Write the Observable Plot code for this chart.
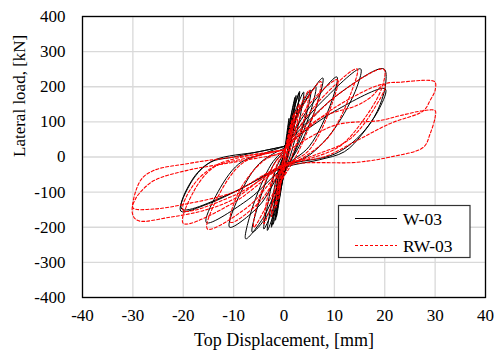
<!DOCTYPE html>
<html>
<head>
<meta charset="utf-8">
<script src="https://cdn.jsdelivr.net/npm/d3@7"></script>
<script src="https://cdn.jsdelivr.net/npm/@observablehq/plot@0.6"></script>
<style>
  html, body { margin: 0; padding: 0; background: white; }
  #chart { width: 496px; height: 360px; }
</style>
</head>
<body>
<div id="chart"></div>
<script>
// ---- Data: [displacement mm, load kN] ----
const xTicks = [-40, -30, -20, -10, 0, 10, 20, 30, 40];
const yTicks = [-400, -300, -200, -100, 0, 100, 200, 300, 400];
const seriesNames = ["W-03", "RW-03"];

// W-03 (black, solid) cycles
const w03_c1 = [[0,0],[0.5,60],[1.0,110],[0.8,80],[0.3,20],[-0.2,-30],[-0.8,-100],[-0.6,-60],[0,0]];
const w03_c2 = [[0,0],[1.0,90],[2.2,170],[1.9,130],[0.8,30],[0,-40],[-1.5,-170],[-1.2,-120],[-0.3,-20],[0,0]];
const w03_c2b = [[0,0],[1.1,95],[2.4,175],[2.0,125],[0.9,25],[-0.1,-45],[-1.7,-180],[-1.3,-115],[-0.4,-15],[0,0]];
const w03_c3 = [[0,0],[1.5,110],[3.1,187],[2.7,140],[1.2,30],[0,-50],[-1.5,-140],[-2.5,-200],[-2.0,-140],[-0.8,-30],[0,0]];
const w03_c3b = [[0,5],[1.6,115],[3.0,182],[2.6,130],[1.1,25],[-0.1,-55],[-1.4,-150],[-2.2,-192],[-1.8,-130],[-0.7,-25],[0,5]];
const w03_c4 = [[0,5],[2,120],[3.9,185],[3.4,130],[1.6,20],[0,-50],[-2,-160],[-3.3,-209],[-2.7,-150],[-1,-30],[0,5]];
const w03_c5 = [[0,10],[2.5,120],[5.3,190],[4.6,130],[2.2,20],[0,-50],[-2.5,-160],[-4,-205],[-3.3,-140],[-1.5,-30],[0,10]];
const w03_c6 = [[0,15],[3,130],[6.3,200],[5.5,140],[2.5,25],[0,-50],[-3.5,-170],[-6.3,-214],[-5.2,-140],[-2,-20],[0,15]];
const w03_c7 = [[0,20],[3.5,140],[7.7,225],[6.8,160],[3,30],[0,-40],[-4,-170],[-7.6,-233],[-6.4,-150],[-2.5,-20],[0,20]];
const w03_c8 = [[0,25],[5,140],[10.5,228],[9.5,160],[5,30],[0,-30],[-5,-140],[-10.8,-200],[-9.5,-130],[-5,-20],[0,25]];
const w03_c9 = [[0,30],[7,150],[15.2,251],[14.5,200],[10,80],[5,5],[0,-30],[-7,-120],[-15.4,-187],[-13.5,-110],[-9,-20],[-4,10],[0,30]];
const w03_c10 = [[0,30],[10,170],[19.8,251],[20.2,210],[18.5,130],[15.5,65],[12,15],[7,-8],[0,-30],[-10.6,-105],[-15,-133],[-20.5,-154],[-18.2,-67],[-14.6,-15],[-10,0],[0,30]];
const w03_c11 = [[0,30],[10,130],[20.1,194],[19,140],[15,60],[10,8],[0,-25],[-10,-100],[-20.3,-148],[-18,-60],[-14,-10],[-5,15],[0,30]];

// RW-03 (red, dashed) cycles
const rw03_c1 = [[0,0],[0.8,60],[1.5,100],[1.1,50],[0.2,-10],[-0.5,-60],[-1,-120],[-0.7,-60],[0,0]];
const rw03_c1b = [[0,0],[1.0,70],[2.0,125],[1.5,60],[0.3,-10],[-0.7,-80],[-1.6,-145],[-1.1,-70],[0,0]];
const rw03_c2 = [[0,0],[1.5,90],[3,150],[2.5,90],[0.8,0],[-1,-90],[-2.5,-170],[-2,-100],[0,0]];
const rw03_c3 = [[0,5],[2.5,120],[5,190],[4.2,120],[1.5,0],[-1.5,-100],[-4,-190],[-3.2,-110],[-1,-10],[0,5]];
const rw03_c4 = [[0,10],[3.5,140],[7.3,215],[6.3,140],[2.5,5],[-2,-100],[-6,-200],[-5,-120],[-1.5,-10],[0,10]];
const rw03_c5 = [[0,15],[5,150],[10.6,220],[9.5,150],[5,20],[0,-30],[-5,-130],[-10.6,-186],[-9,-100],[-4,-10],[0,15]];
const rw03_c6 = [[0,20],[7,160],[14.5,251],[13.5,190],[9,60],[4,0],[0,-30],[-7,-140],[-15.2,-205],[-13,-110],[-8,-15],[0,20]];
const rw03_c7 = [[0,20],[10,170],[19.8,250],[19.5,200],[16,110],[11,30],[5,-5],[0,-25],[-10,-130],[-20,-189],[-18,-100],[-14,-30],[-8,-5],[0,20]];
const rw03_c8 = [[0,20],[10,140],[20,205],[18,140],[13,50],[6,5],[0,-25],[-10,-110],[-20,-152],[-18,-80],[-13,-20],[0,20]];
const rw03_c9 = [[0,20],[7,110],[14.5,147],[17.2,170],[20,208],[23.1,213],[29,218],[30,213],[30,190],[29,161],[27.7,132],[21,95],[14.5,47],[7.9,0],[0,-20],[-10,-120],[-15.9,-152],[-22.5,-171],[-29,-181],[-30.1,-160],[-28.5,-67],[-25.8,-38],[-19.2,-19],[-15.2,-10],[-7,5],[0,20]];
const rw03_c10 = [[0,10],[10,90],[19.1,104],[23.1,118],[27.7,132],[30,132],[30,113],[29,66],[27.7,28],[21.1,0],[14.5,-15],[0,-25],[-10,-100],[-19.2,-133],[-25.8,-148],[-30,-145],[-29.5,-120],[-28.5,-100],[-25.8,-67],[-19.2,-38],[-10,-15],[0,10]];

const w03Cycles = [w03_c1,w03_c2,w03_c2b,w03_c3,w03_c3b,w03_c4,w03_c5,w03_c6,w03_c7,w03_c8,w03_c9,w03_c10,w03_c11];
const rw03Cycles = [rw03_c1,rw03_c1b,rw03_c2,rw03_c3,rw03_c4,rw03_c5,rw03_c6,rw03_c7,rw03_c8,rw03_c9,rw03_c10];

function toRows(cycles, name) {
  return cycles.flatMap((c, i) => c.map(([d, F]) => ({series: name, cycle: name + "-" + i, d, F})));
}
const w03Rows = toRows(w03Cycles, seriesNames[0]);
const rw03Rows = toRows(rw03Cycles, seriesNames[1]);

const FONT = "'Liberation Serif', 'Times New Roman', serif";

const chart = Plot.plot({
  width: 496,
  height: 360,
  marginLeft: 82,
  marginRight: 11,
  marginTop: 16,
  marginBottom: 63,
  x: {domain: [-40, 40]},
  y: {domain: [-400, 400]},
  style: {fontFamily: FONT, fontSize: "17px", color: "black", background: "white"},
  marks: [
    Plot.gridX(xTicks, {stroke: "#d9d9d9", strokeOpacity: 1, strokeWidth: 1.3}),
    Plot.gridY(yTicks, {stroke: "#d9d9d9", strokeOpacity: 1, strokeWidth: 1.3}),
    Plot.axisX(xTicks, {tickSize: 0, tickPadding: 11, label: null, tickFormat: d => String(d), fontSize: 17}),
    Plot.axisY(yTicks, {tickSize: 0, tickPadding: 17, label: null, tickFormat: d => String(d), fontSize: 17}),
    Plot.line(w03Rows, {x: "d", y: "F", z: "cycle", stroke: "black", strokeWidth: 1, curve: "catmull-rom"}),
    Plot.line(rw03Rows, {x: "d", y: "F", z: "cycle", stroke: "#ff0000", strokeWidth: 1.1, strokeDasharray: "3,2", curve: "catmull-rom"}),
    Plot.frame({stroke: "black", strokeWidth: 1.3}),
    Plot.text(["Top Displacement, [mm]"], {frameAnchor: "bottom", lineAnchor: "middle", dy: 43, fontSize: 18, fill: "black"}),
    Plot.text(["Lateral load, [kN]"], {frameAnchor: "left", dx: -63, rotate: -90, fontSize: 17, fill: "black"})
  ]
});

// Legend box (inside the plot, bottom right)
const svg = d3.select(chart);
const lg = svg.append("g").attr("text-anchor", "start");
lg.append("rect").attr("x", 338.5).attr("y", 205.5).attr("width", 131.5).attr("height", 52)
  .attr("fill", "white").attr("stroke", "#333").attr("stroke-width", 1.2);
lg.append("line").attr("x1", 355).attr("x2", 397).attr("y1", 218.5).attr("y2", 218.5)
  .attr("stroke", "black").attr("stroke-width", 1);
lg.append("line").attr("x1", 355).attr("x2", 397).attr("y1", 245.5).attr("y2", 245.5)
  .attr("stroke", "#ff0000").attr("stroke-width", 1.1).attr("stroke-dasharray", "3,2");
lg.append("text").attr("x", 403).attr("y", 218.5).attr("dy", "0.35em").text(seriesNames[0])
  .attr("text-anchor", "start").attr("font-family", FONT).attr("font-size", 17.5).attr("fill", "black");
lg.append("text").attr("x", 403).attr("y", 245.5).attr("dy", "0.35em").text(seriesNames[1])
  .attr("text-anchor", "start").attr("font-family", FONT).attr("font-size", 17.5).attr("fill", "black");

document.getElementById("chart").appendChild(chart);
</script>
</body>
</html>
